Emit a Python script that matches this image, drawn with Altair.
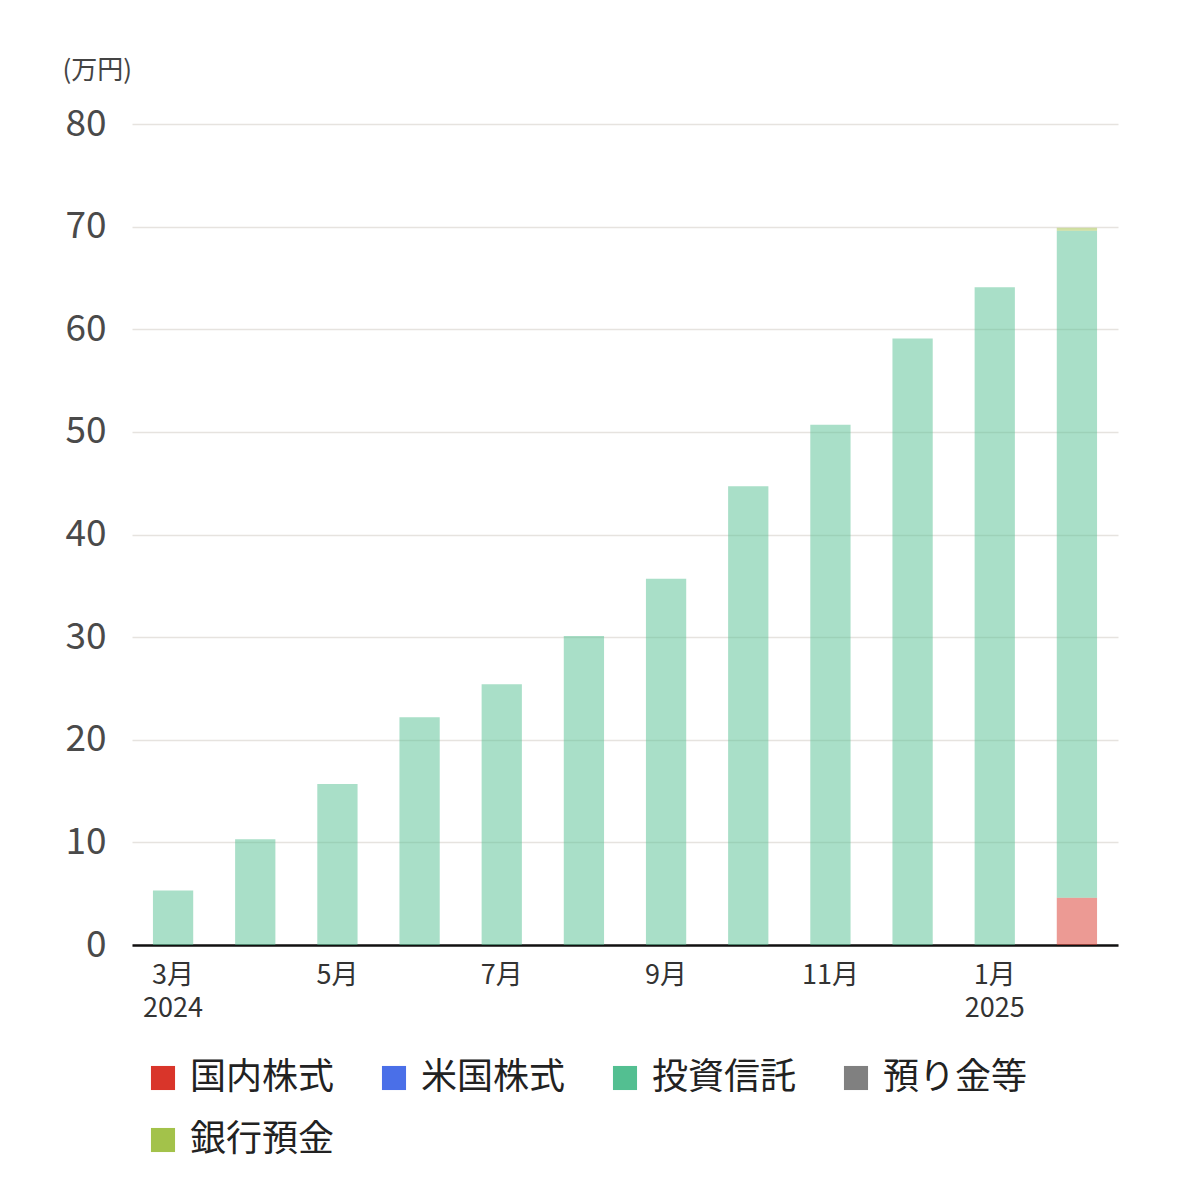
import altair as alt
import pandas as pd

months = ["2024-03", "2024-04", "2024-05", "2024-06", "2024-07", "2024-08",
          "2024-09", "2024-10", "2024-11", "2024-12", "2025-01", "2025-02"]
series_names = ["国内株式", "米国株式", "投資信託", "預り金等", "銀行預金"]
series_colors = ["#d9352a", "#4a6fe8", "#53bf91", "#808080", "#a3c24a"]

domestic = [0, 0, 0, 0, 0, 0, 0, 0, 0, 0, 0, 4.6]
us_stock = [0, 0, 0, 0, 0, 0, 0, 0, 0, 0, 0, 0]
trust = [5.3, 10.3, 15.7, 22.2, 25.4, 30.1, 35.7, 44.7, 50.7, 59.1, 64.1, 65.0]
deposit_other = [0, 0, 0, 0, 0, 0, 0, 0, 0, 0, 0, 0]
bank = [0, 0, 0, 0, 0, 0, 0, 0, 0, 0, 0, 0.3]

tick_labels = {"2024-03": ["3月", "2024"], "2024-05": ["5月"], "2024-07": ["7月"],
               "2024-09": ["9月"], "2024-11": ["11月"], "2025-01": ["1月", "2025"]}

rows = []
for si, (name, vals) in enumerate(zip(series_names, [domestic, us_stock, trust, deposit_other, bank])):
    for m, v in zip(months, vals):
        rows.append({"month": m, "series": name, "value": v, "order": si})
df = pd.DataFrame(rows)

expr = ""
for k, parts in tick_labels.items():
    arr = "[" + ",".join("'" + p + "'" for p in parts) + "]"
    expr += f"datum.value == '{k}' ? {arr} : "
expr += "''"

FONT = "Noto Sans CJK JP"

chart = alt.Chart(df).mark_bar(opacity=0.5).encode(
    x=alt.X("month:N", sort=months,
            scale=alt.Scale(paddingInner=0.51, paddingOuter=0.255),
            axis=alt.Axis(title=None, labelExpr=expr, labelAngle=0, ticks=False,
                          domain=True, domainColor="#111111", domainWidth=2.5,
                          labelFontSize=27, labelColor="#333333", labelPadding=17,
                          labelLineHeight=33, labelFont=FONT)),
    y=alt.Y("value:Q", stack="zero",
            scale=alt.Scale(domain=[0, 80], nice=False),
            axis=alt.Axis(title="(万円)", titleAngle=0, titleX=-70, titleY=-54,
                          titleAlign="left", titleBaseline="middle",
                          titleFontSize=26, titleFontWeight="normal", titleColor="#444444",
                          titleFont=FONT,
                          values=[0, 10, 20, 30, 40, 50, 60, 70, 80],
                          domain=False, ticks=False, gridColor="#e6e3df", gridWidth=1.5,
                          labelFontSize=37, labelColor="#4a4a4a", labelPadding=26,
                          labelFont=FONT)),
    color=alt.Color("series:N",
                    scale=alt.Scale(domain=series_names, range=series_colors),
                    legend=alt.Legend(title=None, orient="none", legendX=13, legendY=936,
                                      direction="horizontal",
                                      values=series_names,
                                      columns=4, symbolType="square", symbolSize=580,
                                      symbolOpacity=1, symbolStrokeWidth=0,
                                      labelFontSize=36, labelColor="#222222",
                                      labelFont=FONT, labelOffset=9,
                                      columnPadding=41, rowPadding=26, padding=0)),
    order=alt.Order("order:Q", sort="ascending"),
).properties(
    width=986, height=821,
    padding={"left": 54, "top": 49, "right": 10, "bottom": 10},
).configure_view(stroke=None)

chart.save("out.html", embed_options={"renderer": "svg", "actions": False})
